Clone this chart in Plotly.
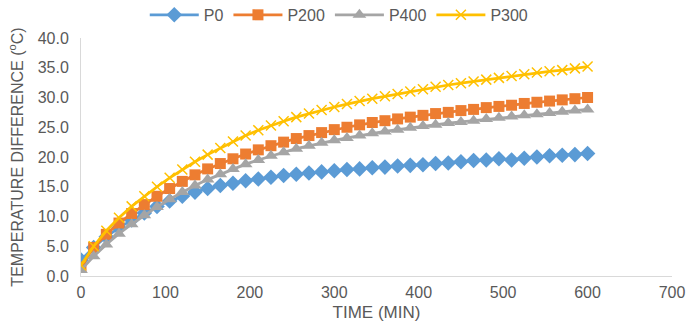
import plotly.graph_objects as go

time_min = [0, 15, 30, 45, 60, 75, 90, 105, 120, 135, 150, 165, 180, 195, 210, 225, 240, 255, 270, 285,
            300, 315, 330, 345, 360, 375, 390, 405, 420, 435, 450, 465, 480, 495, 510, 525, 540, 555, 570, 585, 600]

p0 = [2.7, 4.8, 6.6, 8.1, 9.4, 10.6, 11.7, 12.6, 13.4, 14.1, 14.7, 15.2, 15.6, 16.0, 16.3, 16.6, 16.9, 17.1, 17.3, 17.5,
      17.7, 17.9, 18.0, 18.2, 18.3, 18.5, 18.6, 18.7, 18.9, 19.0, 19.2, 19.4, 19.5, 19.7, 19.5, 19.8, 20.0, 20.2, 20.3, 20.4, 20.6]
p200 = [1.5, 4.8, 7.0, 8.9, 10.5, 12.0, 13.4, 14.7, 15.9, 17.0, 18.0, 18.9, 19.7, 20.5, 21.2, 21.9, 22.5, 23.1, 23.6, 24.1,
        24.6, 25.0, 25.4, 25.8, 26.1, 26.4, 26.7, 27.0, 27.3, 27.5, 27.8, 28.0, 28.3, 28.5, 28.7, 29.0, 29.2, 29.4, 29.6, 29.8, 30.0]
p400 = [1.0, 3.3, 5.3, 7.1, 8.7, 10.2, 11.6, 12.9, 14.1, 15.2, 16.2, 17.1, 18.0, 18.8, 19.5, 20.2, 20.8, 21.4, 21.9, 22.4,
        22.8, 23.2, 23.6, 24.0, 24.3, 24.6, 24.9, 25.2, 25.4, 25.7, 25.9, 26.1, 26.4, 26.6, 26.8, 27.0, 27.2, 27.4, 27.6, 27.8, 28.0]
p300 = [1.8, 5.0, 7.6, 9.8, 11.7, 13.4, 15.0, 16.5, 17.9, 19.2, 20.4, 21.5, 22.6, 23.6, 24.5, 25.3, 26.0, 26.7, 27.3, 27.9,
        28.4, 28.9, 29.4, 29.8, 30.2, 30.6, 31.0, 31.4, 31.8, 32.1, 32.4, 32.7, 33.0, 33.3, 33.6, 33.9, 34.2, 34.4, 34.6, 34.9, 35.2]

series = [
    ("P0", p0, "#5B9BD5", "diamond", 12),
    ("P200", p200, "#ED7D31", "square", 11),
    ("P400", p400, "#A5A5A5", "triangle-up", 12),
    ("P300", p300, "#FFC000", "x-thin-open", 10),
]

fig = go.Figure()
for name, vals, color, sym, size in series:
    marker = dict(symbol=sym, size=size, color=color)
    if sym == "x-thin-open":
        marker["line"] = dict(color=color, width=1.5)
    fig.add_trace(go.Scatter(x=time_min, y=vals, name=name, mode="lines+markers",
                             line=dict(color=color, width=2.75), marker=marker))

font_color = "#595959"
fig.update_layout(
    width=686, height=327,
    margin=dict(l=81, r=14, t=38, b=51, autoexpand=False),
    paper_bgcolor="white", plot_bgcolor="white",
    font=dict(family="Liberation Sans", size=16, color=font_color),
    showlegend=True,
    legend=dict(orientation="h", x=0.437, xanchor="center", y=1.097, yanchor="middle",
                font=dict(size=16, color=font_color), itemwidth=49, tracegroupgap=0),
    xaxis=dict(range=[0, 700], dtick=100, tick0=0, showgrid=False, zeroline=False,
               showline=True, linecolor="#D9D9D9", linewidth=1, ticks="", automargin=False,
               ticklabelstandoff=2,
               tickfont=dict(size=16, color=font_color),
               title=dict(text="TIME (MIN)", font=dict(size=17, color=font_color), standoff=5)),
    yaxis=dict(range=[0, 40], dtick=5, tick0=0, showgrid=False, zeroline=False,
               showline=True, linecolor="#D9D9D9", linewidth=1, ticks="", tickformat=".1f",
               automargin=False, ticklabelstandoff=8,
               tickfont=dict(size=16, color=font_color),
               title=dict(text="TEMPERATURE DIFFERENCE (<sup>o</sup>C)", font=dict(size=16, color=font_color), standoff=10)),
)

# remove the page's default body margin so the 686x327 figure fills the window exactly
fig.write_html("out.html", config={"displayModeBar": False},
               post_script="document.body.style.margin='0';document.body.style.overflow='hidden';")
